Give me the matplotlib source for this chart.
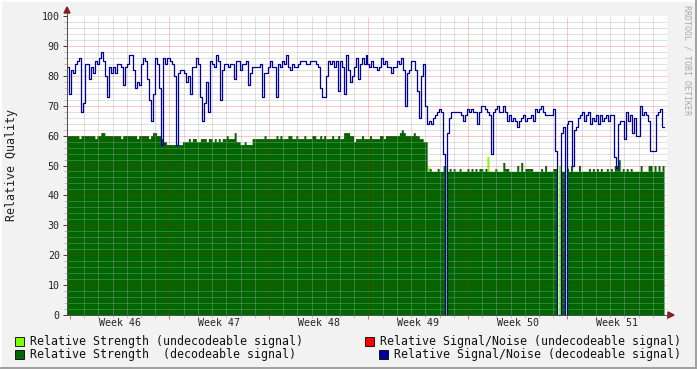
import numpy as np
import matplotlib
matplotlib.use("Agg")
import matplotlib.pyplot as plt
from matplotlib.patches import Rectangle, Polygon
from matplotlib.lines import Line2D
import matplotlib.transforms as mtransforms

W, H = 697, 369

# one sample every 3.36 h (0.14 day), first sample 0.21 day before Monday of week 46
START_DAY = -0.21
STEP_DAY = 0.14

weeks = ["Week 46", "Week 47", "Week 48", "Week 49", "Week 50", "Week 51"]

# relative signal/noise, decodeable signal
snr_decodeable = [
    83, 74, 82, 81, 84, 85, 86, 68, 71, 84,
    84, 79, 83, 81, 85, 84, 86, 88, 85, 80,
    73, 83, 81, 83, 81, 84, 84, 83, 77, 83,
    84, 87, 87, 82, 76, 78, 77, 84, 86, 85,
    79, 72, 65, 74, 86, 84, 76, 57, 86, 84,
    86, 86, 85, 84, 80, 57, 81, 82, 82, 81,
    78, 80, 74, 83, 83, 86, 84, 73, 65, 71,
    78, 68, 85, 84, 83, 87, 85, 72, 82, 84,
    84, 83, 84, 84, 79, 85, 85, 82, 84, 84,
    85, 77, 81, 83, 83, 83, 83, 84, 73, 81,
    81, 83, 85, 83, 83, 73, 84, 83, 85, 84,
    87, 83, 82, 84, 83, 83, 84, 85, 85, 85,
    84, 84, 85, 85, 85, 84, 83, 76, 73, 73,
    80, 85, 84, 85, 83, 85, 75, 85, 83, 74,
    87, 82, 78, 80, 83, 86, 79, 84, 86, 84,
    87, 84, 83, 85, 83, 83, 82, 83, 86, 84,
    85, 83, 83, 81, 83, 83, 85, 84, 86, 82,
    70, 81, 82, 85, 85, 82, 75, 66, 80, 84,
    70, 64, 65, 64, 66, 67, 68, 69, 68, 54,
    0, 61, 66, 68, 68, 68, 68, 68, 67, 65,
    67, 69, 68, 69, 68, 68, 64, 68, 70, 70,
    69, 68, 67, 54, 68, 69, 70, 68, 68, 70,
    68, 65, 67, 65, 66, 65, 63, 65, 66, 67,
    65, 66, 66, 67, 65, 69, 68, 69, 70, 68,
    67, 67, 67, 67, 69, 55, 0, 0, 61, 63,
    0, 64, 65, 65, 50, 62, 63, 66, 67, 68,
    65, 67, 68, 64, 66, 65, 67, 64, 67, 65,
    66, 67, 65, 67, 67, 53, 49, 64, 65, 65,
    59, 68, 65, 67, 61, 66, 60, 60, 70, 67,
    68, 67, 65, 55, 55, 55, 67, 68, 69, 63,
]

# relative strength, decodeable signal
strength_decodeable = [
    60, 60, 60, 60, 60, 60, 59, 60, 60, 60,
    60, 60, 60, 60, 59, 60, 60, 61, 61, 60,
    60, 60, 60, 60, 60, 60, 60, 59, 60, 60,
    60, 60, 60, 60, 60, 59, 60, 60, 60, 60,
    60, 59, 60, 61, 61, 60, 60, 59, 58, 58,
    57, 57, 57, 57, 57, 57, 57, 57, 58, 58,
    58, 59, 58, 59, 59, 58, 58, 59, 59, 59,
    58, 59, 59, 58, 59, 58, 59, 58, 59, 59,
    60, 59, 59, 59, 61, 58, 58, 57, 57, 58,
    57, 57, 57, 59, 59, 59, 59, 59, 59, 60,
    59, 59, 59, 59, 59, 60, 59, 60, 59, 59,
    59, 60, 60, 59, 59, 60, 59, 59, 59, 60,
    59, 59, 59, 60, 60, 59, 59, 60, 59, 60,
    59, 59, 59, 60, 59, 59, 60, 59, 59, 61,
    61, 61, 60, 60, 58, 59, 59, 59, 60, 59,
    59, 59, 60, 59, 59, 59, 59, 60, 60, 59,
    60, 60, 60, 60, 60, 60, 60, 61, 62, 61,
    60, 60, 60, 60, 61, 60, 60, 59, 59, 58,
    58, 48, 49, 48, 48, 48, 49, 48, 48, 50,
    0, 48, 49, 48, 49, 48, 48, 49, 48, 48,
    48, 49, 48, 49, 48, 49, 48, 49, 49, 48,
    49, 48, 48, 48, 48, 49, 48, 48, 48, 51,
    49, 49, 48, 48, 48, 48, 50, 48, 51, 48,
    49, 49, 49, 49, 48, 48, 48, 48, 49, 48,
    50, 48, 48, 48, 49, 49, 0, 0, 48, 48,
    0, 49, 48, 50, 48, 48, 48, 50, 48, 48,
    48, 48, 49, 48, 49, 48, 49, 48, 49, 48,
    48, 49, 48, 49, 48, 50, 50, 52, 48, 49,
    48, 49, 48, 49, 48, 48, 48, 48, 50, 48,
    48, 48, 50, 50, 48, 50, 48, 50, 48, 50,
]

# relative strength, undecodeable signal (only the few samples where it occurs)
undecodeable_idx = [181, 190, 211, 247, 251]
undecodeable_strength = [49.5, 50, 53, 50, 49.5]

LIME = "#80FF00"
GREEN = "#006600"
RED = "#FF0000"
BLUE = "#000099"
BACK = "#F2F2F2"


def px(x):
    return x / W


def py(y):
    return 1 - y / H


n = len(snr_decodeable)
t = START_DAY + STEP_DAY * np.arange(n + 1)
snr = np.append(snr_decodeable, snr_decodeable[-1])
strength = np.append(strength_decodeable, strength_decodeable[-1])
lime = np.zeros(n)
lime[undecodeable_idx] = undecodeable_strength
lime = np.append(lime, lime[-1])

plt.rcParams["font.family"] = "DejaVu Sans Mono"

fig = plt.figure(figsize=(W / 100, H / 100), dpi=100, facecolor=BACK)
ax = fig.add_axes([px(67), 1 - 315 / H, 600 / W, 299 / H])
ax.set_facecolor("white")

ax.fill_between(t, 0, lime, step="post", color=LIME, lw=0, zorder=1)
ax.fill_between(t, 0, strength, step="post", color=GREEN, lw=0, zorder=2)
ax.step(t, snr, where="post", color=BLUE, lw=0.9, zorder=5)

x_end = START_DAY + STEP_DAY * n
ax.set_xlim(START_DAY, x_end)
ax.set_ylim(0, 100)

# grid, drawn over the areas like rrdtool does
dots = (0, (1, 1))
grid_kw = dict(lw=0.72, ls=dots, zorder=3, antialiased=False)
for d in range(0, 42):
    if d % 7 == 0:
        continue
    ax.axvline(d, color="#A8A8A8", alpha=0.35, **grid_kw)
for w in range(1, 6):
    ax.axvline(7 * w, color=RED, alpha=0.22, **grid_kw)
for v in range(2, 100, 2):
    if v % 10 == 0:
        ax.axhline(v, color=RED, alpha=0.22, **grid_kw)
    else:
        ax.axhline(v, color="#A8A8A8", alpha=0.35, **grid_kw)

for s in ["top", "right"]:
    ax.spines[s].set_visible(False)
for s in ["left", "bottom"]:
    ax.spines[s].set_color("#505050")
    ax.spines[s].set_linewidth(0.72)
    ax.spines[s].set_zorder(6)

ax.set_yticks(range(0, 101, 10))
ax.set_yticks(range(0, 101, 2), minor=True)
ax.set_xticks([7 * w for w in range(0, 7)])
ax.set_xticklabels([])
ax.set_xticks(range(0, 42), minor=True)
ax.tick_params(axis="y", which="major", length=3, width=0.72, color="#404040",
               labelsize=7.2, pad=2.2, labelcolor="#222222")
ax.tick_params(axis="y", which="minor", length=2, width=0.72, color="#C0C0C0")
ax.tick_params(axis="x", which="major", length=3, width=0.72, color="#E07070")
ax.tick_params(axis="x", which="minor", length=2, width=0.72, color="#C8C8C8")

trans = mtransforms.blended_transform_factory(ax.transData, fig.transFigure)
for k, label in enumerate(weeks):
    ax.text(7 * k + 3.5, py(318), label, transform=trans, ha="center", va="top",
            fontsize=7.2, color="#222222")

fig.text(px(12), py(165), "Relative Quality", rotation=90, ha="center", va="center",
         fontsize=8.4, color="#222222")
fig.text(px(687), py(5), "RRDTOOL / TOBI OETIKER", rotation=270, ha="center", va="top",
         fontsize=6, color="#A8A8A8")

# axis arrows
arrow_col = "#8B1A1A"
fig.add_artist(Line2D([px(67), px(67)], [py(315), py(12)], color="#505050", lw=0.72))
fig.add_artist(Line2D([px(667), px(670)], [py(315), py(315)], color="#505050", lw=0.72))
fig.add_artist(Polygon([[px(64), py(13)], [px(70), py(13)], [px(67), py(7)]],
                       closed=True, color=arrow_col, transform=fig.transFigure))
fig.add_artist(Polygon([[px(668), py(312)], [px(668), py(318)], [px(674), py(315)]],
                       closed=True, color=arrow_col, transform=fig.transFigure))

# legend
legend_items = [
    (15, 30, 345, LIME, "Relative Strength (undecodeable signal)"),
    (15, 30, 358, GREEN, "Relative Strength  (decodeable signal)"),
    (365, 380, 345, RED, "Relative Signal/Noise (undecodeable signal)"),
    (379, 394, 358, BLUE, "Relative Signal/Noise (decodeable signal)"),
]
for bx, tx, base, col, label in legend_items:
    fig.add_artist(Rectangle((px(bx), py(base + 0.5)), 9 / W, 9 / H, facecolor=col,
                             edgecolor="#000000", lw=0.6, transform=fig.transFigure))
    fig.text(px(tx), py(base), label, ha="left", va="baseline", fontsize=8.4,
             color="#111111")

# frame
fig.add_artist(Line2D([0, 1], [py(0.5), py(0.5)], color="white", lw=1.4))
fig.add_artist(Line2D([px(0.5), px(0.5)], [0, 1], color="white", lw=1.4))
fig.add_artist(Line2D([0, 1], [py(368), py(368)], color="#A0A0A0", lw=1.4))
fig.add_artist(Line2D([px(696), px(696)], [0, 1], color="#A0A0A0", lw=1.4))

fig.savefig("out.png", dpi=100, facecolor=BACK)
